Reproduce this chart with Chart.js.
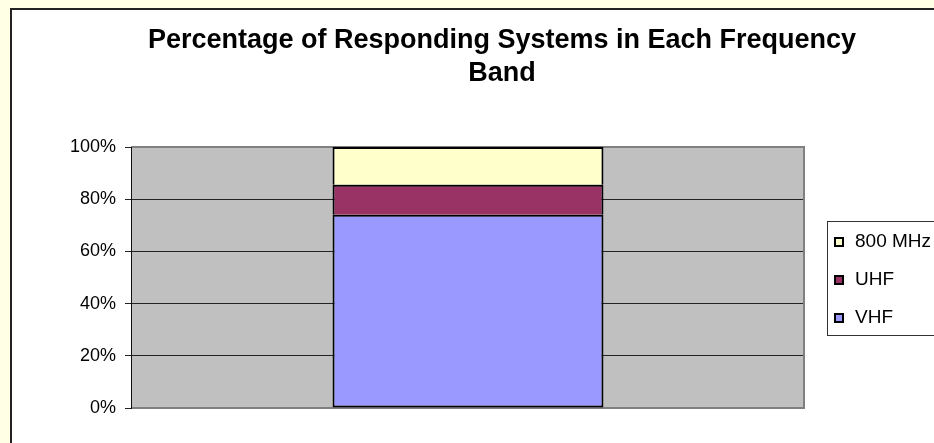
<!DOCTYPE html>
<html>
<head>
<meta charset="utf-8">
<title>Frequency Bands</title>
<script src="https://cdn.jsdelivr.net/npm/chart.js@4.4.0/dist/chart.umd.min.js"></script>
<style>
    html, body { margin: 0; padding: 0; background: #ffffe6; }
    #wrap { width: 934px; height: 443px; }
</style>
</head>
<body>
<div id="wrap"><canvas id="bandChart" width="934" height="443"></canvas></div>
<script>
const categories = ['Responding Systems'];
const bandNames = ['VHF', 'UHF', '800 MHz'];
const vhfShare = [74];
const uhfShare = [11.5];
const mhz800Share = [14.5];
const percentTicks = [0, 20, 40, 60, 80, 100];
const titleLines = ['Percentage of Responding Systems in Each Frequency', 'Band'];

const FONT = '"Liberation Sans", Arial, sans-serif';

// page background, white chart frame and grey plot area
const framePlugin = {
    id: 'frame',
    beforeDraw(chart) {
        const ctx = chart.ctx;
        const a = chart.chartArea;
        ctx.save();
        ctx.fillStyle = '#ffffe6';
        ctx.fillRect(0, 0, chart.width, chart.height);
        ctx.fillStyle = '#ffffff';
        ctx.fillRect(11, 9, chart.width + 20, chart.height + 20);
        ctx.strokeStyle = '#222';
        ctx.lineWidth = 2;
        ctx.strokeRect(11, 9, chart.width + 20, chart.height + 20);
        ctx.fillStyle = '#c0c0c0';
        ctx.fillRect(a.left, a.top, a.right - a.left, a.bottom - a.top);
        ctx.restore();
    },
    beforeDatasetsDraw(chart) {
        const ctx = chart.ctx;
        const a = chart.chartArea;
        ctx.save();
        ctx.strokeStyle = '#808080';
        ctx.lineWidth = 2;
        ctx.beginPath();
        ctx.moveTo(a.left, a.top);
        ctx.lineTo(a.right - 1, a.top);
        ctx.lineTo(a.right - 1, a.bottom);
        ctx.lineTo(a.left, a.bottom);
        ctx.stroke();
        ctx.strokeStyle = '#111';
        ctx.lineWidth = 1;
        ctx.beginPath();
        ctx.moveTo(a.left + 0.5, a.top);
        ctx.lineTo(a.left + 0.5, a.bottom + 1);
        ctx.stroke();
        ctx.restore();
    }
};

// two-line bold title, centred on the frame
const titlePlugin = {
    id: 'bandTitle',
    afterDraw(chart) {
        const ctx = chart.ctx;
        ctx.save();
        ctx.fillStyle = '#000';
        ctx.font = 'bold 27px ' + FONT;
        ctx.textAlign = 'center';
        ctx.textBaseline = 'middle';
        titleLines.forEach((line, i) => ctx.fillText(line, 502, 41 + i * 33));
        ctx.restore();
    }
};

// boxed legend on the right, top stack segment first
const legendPlugin = {
    id: 'bandLegend',
    afterDraw(chart) {
        const ctx = chart.ctx;
        const sets = chart.data.datasets.slice().reverse();
        ctx.save();
        ctx.fillStyle = '#fff';
        ctx.fillRect(827, 221, 120, 114);
        ctx.strokeStyle = '#333';
        ctx.lineWidth = 1;
        ctx.strokeRect(827.5, 221.5, 120, 114);
        ctx.font = '19px ' + FONT;
        ctx.textBaseline = 'middle';
        sets.forEach((ds, i) => {
            const y = 241 + i * 38;
            ctx.fillStyle = ds.backgroundColor;
            ctx.fillRect(834, y - 4, 10, 10);
            ctx.strokeStyle = '#000';
            ctx.lineWidth = 2;
            ctx.strokeRect(835, y - 3, 8, 8);
            ctx.fillStyle = '#000';
            ctx.fillText(ds.label, 855, y + 1);
        });
        ctx.restore();
    }
};

new Chart(document.getElementById('bandChart'), {
    type: 'bar',
    data: {
        labels: categories,
        datasets: [
            { label: bandNames[0], data: vhfShare, backgroundColor: '#9999ff', borderSkipped: false },
            { label: bandNames[1], data: uhfShare, backgroundColor: '#993366' },
            { label: bandNames[2], data: mhz800Share, backgroundColor: '#ffffcc' }
        ]
    },
    options: {
        responsive: false,
        animation: false,
        layout: { padding: { left: 0, right: 129, top: 147, bottom: 35 } },
        datasets: {
            bar: {
                borderColor: '#000',
                borderWidth: 2,
                categoryPercentage: 1,
                barPercentage: 0.402
            }
        },
        plugins: {
            legend: { display: false },
            title: { display: false },
            tooltip: { enabled: false }
        },
        scales: {
            x: { stacked: true, display: false },
            y: {
                stacked: true,
                min: 0,
                max: 100,
                afterFit: (scale) => { scale.width = 131; },
                afterBuildTicks: (scale) => {
                    scale.ticks = percentTicks.map(v => ({ value: v }));
                },
                border: { display: false },
                grid: {
                    color: (c) => (c.tick && (c.tick.value === 100 || c.tick.value === 0)) ? 'rgba(0,0,0,0)' : '#222',
                    tickColor: '#222',
                    tickLength: 6,
                    lineWidth: 1
                },
                ticks: {
                    padding: 9,
                    color: '#000',
                    font: { family: FONT, size: 18 },
                    callback: (v) => v + '%'
                }
            }
        }
    },
    plugins: [framePlugin, titlePlugin, legendPlugin]
});
</script>
</body>
</html>
